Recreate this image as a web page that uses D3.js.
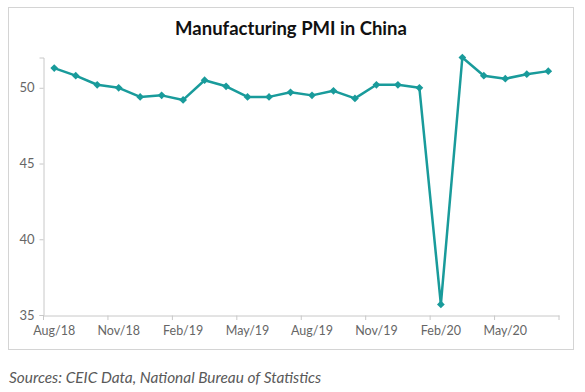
<!DOCTYPE html>
<html>
<head>
<meta charset="utf-8">
<script src="https://cdn.jsdelivr.net/npm/d3@7"></script>
<style>
  body { margin: 0; background: #fff; }
  text { font-family: Lato, "Open Sans", sans-serif; }
</style>
</head>
<body>
<div id="chart"></div>
<script>
const months = ["Aug/18","Sep/18","Oct/18","Nov/18","Dec/18","Jan/19","Feb/19","Mar/19",
  "Apr/19","May/19","Jun/19","Jul/19","Aug/19","Sep/19","Oct/19","Nov/19","Dec/19",
  "Jan/20","Feb/20","Mar/20","Apr/20","May/20","Jun/20","Jul/20"];
const pmi = [51.3,50.8,50.2,50.0,49.4,49.5,49.2,50.5,50.1,49.4,49.4,49.7,49.5,49.8,49.3,
  50.2,50.2,50.0,35.7,52.0,50.8,50.6,50.9,51.1];
const yTicks = [35,40,45,50];
const xLabels = ["Aug/18","Nov/18","Feb/19","May/19","Aug/19","Nov/19","Feb/20","May/20"];

const W = 585, H = 392;
const teal = "#199b9b";
const svg = d3.select("#chart").append("svg")
    .attr("width", W).attr("height", H);

// chart frame
svg.append("rect")
    .attr("x", 8.5).attr("y", 7.5)
    .attr("width", 565).attr("height", 342)
    .attr("fill", "none").attr("stroke", "#d4d4d4");

svg.append("text")
    .attr("x", 291).attr("y", 35)
    .attr("text-anchor", "middle")
    .style("font-size", "18.5px").style("font-weight", "bold")
    .attr("fill", "#111")
    .text("Manufacturing PMI in China");

var x = d3.scaleBand().domain(months).range([43.5, 559]);
var y = d3.scaleLinear().domain([35, 52]).range([315, 57.5]);

// y axis
var yAx = svg.append("g")
    .attr("transform", "translate(43.5,0)")
    .call(d3.axisLeft(y).tickValues(yTicks).tickSize(4).tickPadding(5));
yAx.selectAll("line, path").attr("stroke", "#c8c8c8");
yAx.selectAll("text").attr("fill", "#666").style("font-size", "13px");

// x axis: labels on categories, ticks on boundaries
var xAx = svg.append("g")
    .attr("transform", "translate(0,315.5)")
    .call(d3.axisBottom(x).tickValues(xLabels).tickSize(0).tickPadding(11));
xAx.select(".domain").attr("stroke", "#c8c8c8");
xAx.selectAll("text").attr("fill", "#666").style("font-size", "12.5px");
var tickPos = xLabels.map(function (m) { return x(m); }).concat([x.range()[1]]);
svg.append("g").selectAll("line")
    .data(tickPos).join("line")
    .attr("x1", d => d).attr("x2", d => d)
    .attr("y1", 315.5).attr("y2", 320)
    .attr("stroke", "#c8c8c8");

var pts = months.map(function (m, i) { return [x(m) + x.bandwidth() / 2, y(pmi[i])]; });

svg.append("path")
    .attr("d", d3.line()(pts))
    .attr("fill", "none")
    .attr("stroke", teal)
    .attr("stroke-width", 2.5)
    .attr("stroke-linejoin", "round");

svg.append("g").selectAll("path")
    .data(pts).join("path")
    .attr("transform", d => "translate(" + d[0] + "," + d[1] + ") rotate(45)")
    .attr("d", d3.symbol(d3.symbolSquare, 30))
    .attr("fill", teal);

svg.append("text")
    .attr("x", 9).attr("y", 383)
    .style("font-size", "15.4px").style("font-style", "italic")
    .attr("fill", "#595959")
    .text("Sources: CEIC Data, National Bureau of Statistics");
</script>
</body>
</html>
